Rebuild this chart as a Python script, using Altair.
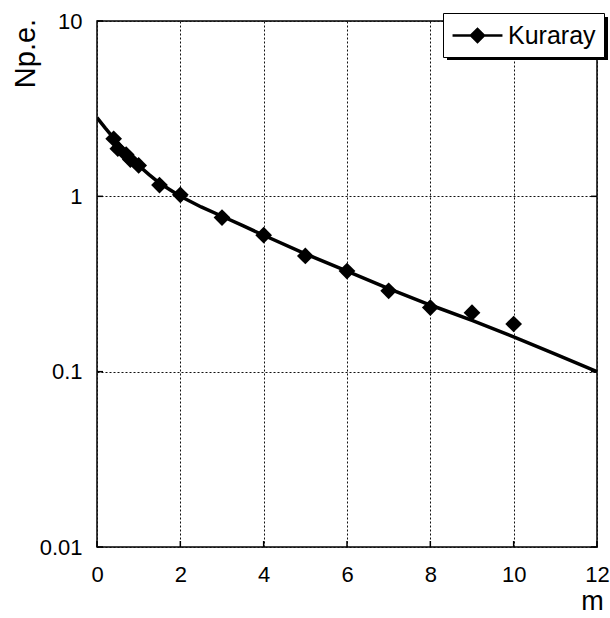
import altair as alt
import pandas as pd

# measured points (Kuraray)
pts_x = [0.4, 0.5, 0.7, 0.8, 1.0, 1.5, 2, 3, 4, 5, 6, 7, 8, 9, 10]
pts_y = [2.13, 1.87, 1.73, 1.62, 1.50, 1.16, 1.02, 0.757, 0.60, 0.457, 0.375, 0.289, 0.232, 0.217, 0.187]
# fitted curve
fit_x = [0, 0.2, 0.4, 0.6, 0.8, 1.0, 1.25, 1.5, 1.75, 2, 2.5, 3, 3.5, 4, 5, 6, 7, 8, 9, 10, 11, 12]
fit_y = [2.81, 2.45, 2.15, 1.9, 1.68, 1.5, 1.33, 1.19, 1.09, 1.0, 0.87, 0.77, 0.68, 0.6, 0.47,
         0.375, 0.298, 0.24, 0.196, 0.158, 0.126, 0.1]
x_ticks = [0, 2, 4, 6, 8, 10, 12]
y_ticks = [0.01, 0.1, 1, 10]
series = "Kuraray"

W, H = 500, 526
FONT = "Liberation Sans"

pts = pd.DataFrame({"x": pts_x, "y": pts_y, "s": [series] * len(pts_x)})
fit = pd.DataFrame({"x": fit_x, "y": fit_y})
xt = pd.DataFrame({"x": x_ticks})
yt = pd.DataFrame({"y": y_ticks})

xscale = alt.Scale(domain=[0, 12], nice=False, zero=False)
yscale = alt.Scale(type="log", domain=[0.01, 10], nice=False)

grid = dict(grid=True, gridDash=[2, 2], gridColor="#111", gridWidth=1, gridOpacity=1)
xaxis = alt.Axis(values=x_ticks, **grid,
                 ticks=False, domain=False, labelFont=FONT, labelFontSize=22, labelColor="black",
                 labelPadding=17, labelFlush=False, labelOverlap=False, format="d",
                 title="m", titleFont=FONT, titleFontSize=27, titleFontWeight="normal",
                 titleColor="black", titleX=495, titleY=54, titleAlign="center",
                 titleBaseline="middle")
yaxis = alt.Axis(values=y_ticks, **grid,
                 ticks=False, domain=False, labelFont=FONT, labelFontSize=22, labelColor="black",
                 labelPadding=15, labelFlush=False, labelOverlap=False, format="~g",
                 title="Np.e.", titleFont=FONT, titleFontSize=29, titleFontWeight="normal",
                 titleColor="black", titleX=-72, titleY=32, titleAlign="center",
                 titleBaseline="middle", titleAngle=270)

X = alt.X("x:Q", scale=xscale, axis=xaxis)
Y = alt.Y("y:Q", scale=yscale, axis=yaxis)

line = alt.Chart(fit).mark_line(color="black", strokeWidth=3.5, clip=True).encode(x=X, y=Y)

tick_style = dict(color="black", strokeWidth=1.5)
xticks = alt.Chart(xt).mark_rule(**tick_style).encode(
    x=X, y=alt.value(H), y2=alt.value(H - 6))
yticks_l = alt.Chart(yt).mark_rule(**tick_style).encode(
    y=Y, x=alt.value(0), x2=alt.value(6))
yticks_r = alt.Chart(yt).mark_rule(**tick_style).encode(
    y=Y, x=alt.value(W - 6), x2=alt.value(W))

sym_path = "M-1.92,0H1.92M-0.5,0L0,-0.5L0.5,0L0,0.5Z"
points = alt.Chart(pts).mark_point(shape="diamond", filled=True, size=280, opacity=1).encode(
    x=X, y=Y,
    color=alt.Color("s:N", scale=alt.Scale(range=["black"]),
                    legend=alt.Legend(title=None, orient="none", legendX=346, legendY=-8,
                                      symbolType=sym_path, symbolSize=676,
                                      symbolStrokeWidth=2.5, symbolStrokeColor="black",
                                      symbolFillColor="black", symbolOffset=12,
                                      labelOffset=16, labelFont=FONT, labelFontSize=25,
                                      labelColor="black", padding=8,
                                      strokeColor="black", fillColor="white")),
)

shadow = alt.Chart(pd.DataFrame({"a": [0]})).mark_rect(color="black", clip=False).encode(
    x=alt.value(350), x2=alt.value(511), y=alt.value(-4), y2=alt.value(39))

chart = alt.layer(line, xticks, yticks_l, yticks_r, points, shadow).properties(
    width=W, height=H,
    padding={"left": 97, "top": 21, "right": 13, "bottom": 71},
    autosize=alt.AutoSizeParams(type="none"),
    background="white",
).configure_view(stroke="black", strokeWidth=1.5)

chart.save("out.html", embed_options={"renderer": "svg", "actions": False})
